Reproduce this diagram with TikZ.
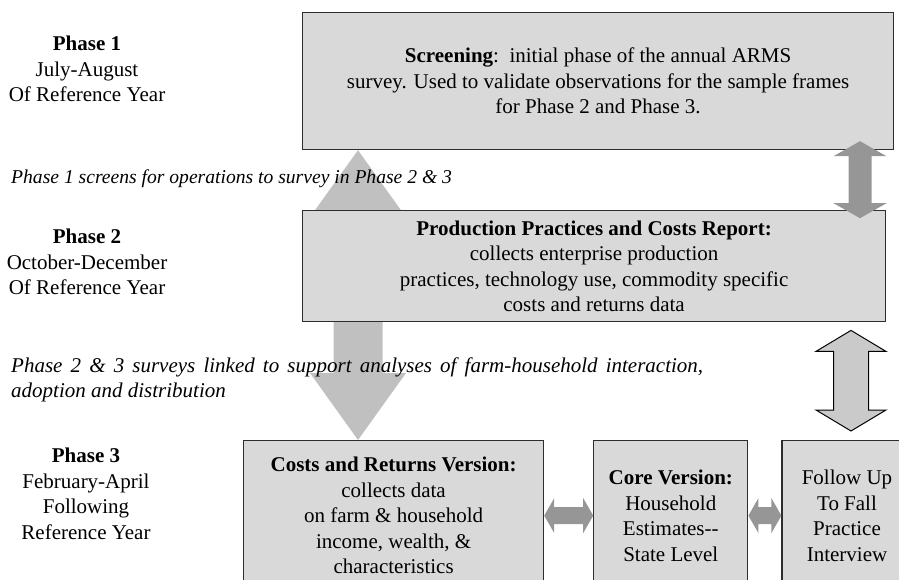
\documentclass[tikz,border=0pt]{standalone}
\usepackage{fontspec}
\setmainfont{Liberation Serif}
\usetikzlibrary{positioning,calc,backgrounds}

\definecolor{boxgray}{RGB}{217,217,217}
\definecolor{litearr}{RGB}{192,192,192}
\definecolor{darkarr}{RGB}{150,150,150}
\definecolor{outarr}{RGB}{202,202,202}
\definecolor{edgegray}{RGB}{45,45,45}

\begin{document}
\begin{tikzpicture}[
    x=1pt, y=-1pt,
    font=\fontsize{21}{25.5}\selectfont,
    box/.style={draw=edgegray, line width=1.2pt, fill=boxgray, align=center,
                inner sep=0pt},
    phase/.style={align=center, inner sep=0pt},
    note/.style={anchor=west, inner sep=0pt, font=\fontsize{21}{25.5}\selectfont\itshape},
    litefill/.style={fill=litearr},
    darkfill/.style={fill=darkarr},
    outfill/.style={fill=outarr, draw=black, line width=1pt, line join=miter},
  ]
  \useasboundingbox (0,0) rectangle (899,580);
  \clip (0,0) rectangle (899,580);

  % --- phase labels on the left ---
  \node[phase] (ph1) at (87,69) {\textbf{Phase 1}\\July-August\\Of Reference Year};
  \node[phase] (ph2) at (87,262) {\textbf{Phase 2}\\October-December\\Of Reference Year};
  \node[phase] (ph3) at (86,494) {\textbf{Phase 3}\\February-April\\Following\\Reference Year};

  % --- survey boxes ---
  \node[box, anchor=north west, minimum width=591pt, minimum height=137pt] (screen) at (302,12)
    {\textbf{Screening}:\ \ initial phase of the annual ARMS\\
     survey. Used to validate observations for the sample frames\\
     for Phase 2 and Phase 3.};
  \node[box, anchor=north west, minimum width=583pt, minimum height=111pt] (prod)
    at ($(screen.south west)+(0,60)$)
    {\textbf{Production Practices and Costs Report:}\\
     collects enterprise production\\
     practices, technology use, commodity specific\\
     costs and returns data};
  \node[box, anchor=north west, minimum width=300pt, minimum height=150pt] (costs) at (243,440)
    {\textbf{Costs and Returns Version:}\\collects data\\on farm \& household\\income, wealth, \&\\characteristics};
  \node[box, right=49pt of costs, minimum width=154pt, minimum height=150pt] (core)
    {\textbf{Core Version:}\\Household\\Estimates-{}-\\State Level};
  \node[box, right=33pt of core, minimum width=130pt, minimum height=150pt] (follow)
    {Follow Up\\To Fall\\Practice\\Interview};

  % --- big light arrow, behind the report box ---
  \coordinate (lcol) at (358,0);
  \coordinate (la1) at (screen.south -| lcol);
  \coordinate (la2) at (costs.north -| lcol);
  \begin{scope}[on background layer]
    \fill[litefill] (la1) -- ($(la1)+(48,67)$) -- ($(la1)+(24.5,67)$) -- ($(la2)+(24.5,-67)$)
      -- ($(la2)+(48,-67)$) -- (la2) -- ($(la2)+(-48,-67)$) -- ($(la2)+(-24.5,-67)$)
      -- ($(la1)+(-24.5,67)$) -- ($(la1)+(-48,67)$) -- cycle;
  \end{scope}

  % --- notes ---
  \node[note, font=\fontsize{19.6}{24}\selectfont\itshape] (note1) at (11,179)
    {Phase 1 screens for operations to survey in Phase 2 \& 3};
  \node[note, text width=692pt, align=justify] (note2) at (11,380)
    {Phase 2 \& 3 surveys linked to support analyses of farm-household interaction,\linebreak
     adoption and distribution};

  % --- screening <-> report ---
  \coordinate (dcol) at (860,0);
  \coordinate (da1) at ($(screen.south -| dcol)+(0,-9)$);
  \coordinate (da2) at ($(prod.north -| dcol)+(0,8)$);
  \fill[darkfill] (da1) -- ($(da1)+(26.5,15)$) -- ($(da1)+(11.5,15)$) -- ($(da2)+(11.5,-15)$)
    -- ($(da2)+(26.5,-15)$) -- (da2) -- ($(da2)+(-26.5,-15)$) -- ($(da2)+(-11.5,-15)$)
    -- ($(da1)+(-11.5,15)$) -- ($(da1)+(-26.5,15)$) -- cycle;

  % --- report <-> follow up ---
  \coordinate (ocol) at (851,0);
  \coordinate (oa1) at ($(prod.south -| ocol)+(0,8)$);
  \coordinate (oa2) at ($(follow.north -| ocol)+(0,-9)$);
  \draw[outfill] (oa1) -- ($(oa1)+(35,21)$) -- ($(oa1)+(17.5,21)$) -- ($(oa2)+(17.5,-21)$)
    -- ($(oa2)+(35,-21)$) -- (oa2) -- ($(oa2)+(-35,-21)$) -- ($(oa2)+(-17.5,-21)$)
    -- ($(oa1)+(-17.5,21)$) -- ($(oa1)+(-35,21)$) -- cycle;

  % --- phase 3 links ---
  \foreach \a/\b in {costs/core, core/follow}
    \fill[darkfill] (\a.east) -- ($(\a.east)+(10,-17.5)$) -- ($(\a.east)+(10,-8.5)$)
      -- ($(\b.west)+(-10,-8.5)$) -- ($(\b.west)+(-10,-17.5)$) -- (\b.west)
      -- ($(\b.west)+(-10,17.5)$) -- ($(\b.west)+(-10,8.5)$) -- ($(\a.east)+(10,8.5)$)
      -- ($(\a.east)+(10,17.5)$) -- cycle;
\end{tikzpicture}
\end{document}
